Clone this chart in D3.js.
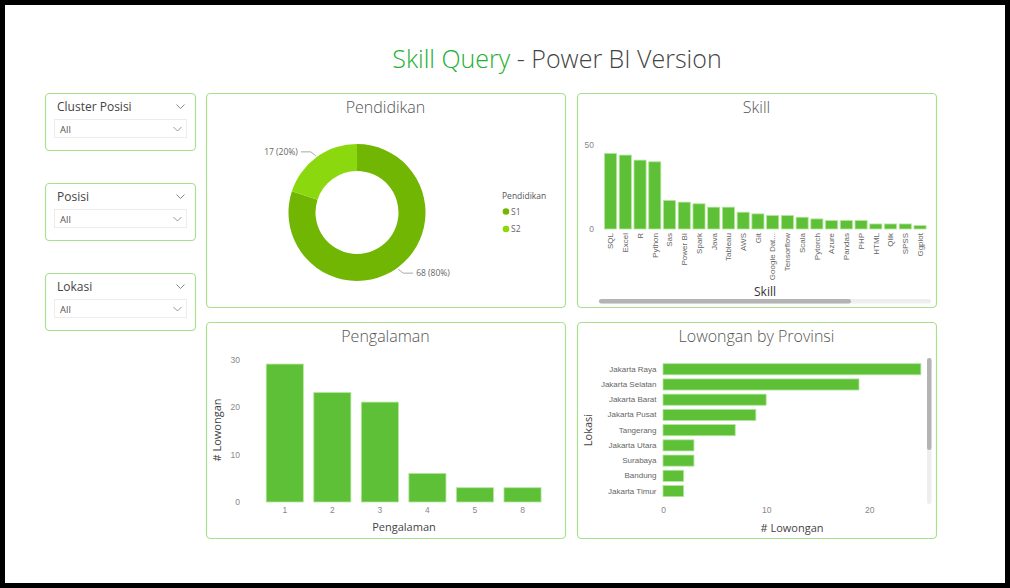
<!DOCTYPE html>
<html><head><meta charset="utf-8">
<script src="https://cdn.jsdelivr.net/npm/d3@7"></script>
<style>
html,body{margin:0;padding:0;background:#000;}
svg{display:block;font-family:"Open Sans","Noto Sans",sans-serif;}
</style></head>
<body>
<svg id="c" width="1010" height="588"></svg>
<script>
// ---- data ----
const slicerNames = ["Cluster Posisi", "Posisi", "Lokasi"];
const slicerValues = ["All", "All", "All"];
const pendidikan = ["S1", "S2"];
const pendidikanCounts = [68, 17];
const skills = ["SQL","Excel","R","Python","Sas","Power BI","Spark","Java","Tableau","AWS","Git","Google Dat...","Tensorflow","Scala","Pytorch","Azure","Pandas","PHP","HTML","Qlik","SPSS","Ggplot"];
const skillCounts = [45,44,41,40,17,16,15,13,13,10,9,8,8,7,6,5,5,5,3,3,3,2];
const skillTicks = [0, 50];
const pengalaman = ["1","2","3","4","5","8"];
const pengalamanCounts = [29,23,21,6,3,3];
const pengalamanTicks = [0,10,20,30];
const provinsi = ["Jakarta Raya","Jakarta Selatan","Jakarta Barat","Jakarta Pusat","Tangerang","Jakarta Utara","Surabaya","Bandung","Jakarta Timur"];
const provinsiCounts = [25,19,10,9,7,3,3,2,2];
const provinsiTicks = [0,10,20];

// ---- style ----
const BAR = "#5EC036", BAR_STROKE = "#b3e59c";
const PANEL_STROKE = "#a9e08e";
const DONUT = ["#72B604", "#8CD80F"];
const AX = "#888", TITLE = "#555";

const svg = d3.select("#c");
svg.append("rect").attr("x",5).attr("y",5).attr("width",1000).attr("height",578).attr("fill","#fff");

// title
const t = svg.append("text").attr("x",557).attr("y",68).attr("text-anchor","middle")
  .attr("font-size",25).attr("font-weight",300).attr("fill","#444");
t.append("tspan").attr("fill","#22b02e").text("Skill Query");
t.append("tspan").text(" - Power BI Version");

function panel(x,y,w,h,title){
  svg.append("rect").attr("x",x+0.5).attr("y",y+0.5).attr("width",w).attr("height",h)
    .attr("rx",4).attr("fill","#fff").attr("stroke",PANEL_STROKE).attr("stroke-width",1.2);
  if(title) svg.append("text").attr("x",x+w/2).attr("y",y+20).attr("text-anchor","middle")
    .attr("font-size",16).attr("font-weight",300).attr("fill",TITLE).text(title);
}
function chevron(g,x,y,s,c){
  g.append("path").attr("d",`M${x-s},${y-s/2}L${x},${y+s/2}L${x+s},${y-s/2}`)
    .attr("fill","none").attr("stroke",c).attr("stroke-width",1);
}

// slicers
const slicerY = [93,183,273];
slicerNames.forEach((n,i)=>{
  const y = slicerY[i];
  svg.append("rect").attr("x",45.5).attr("y",y+0.5).attr("width",150).attr("height",57)
    .attr("rx",4).attr("fill","#fff").attr("stroke",PANEL_STROKE).attr("stroke-width",1.2);
  svg.append("text").attr("x",57).attr("y",y+18).attr("font-size",12).attr("fill","#444").text(n);
  chevron(svg,180.5,y+13.5,4,"#888");
  svg.append("rect").attr("x",54.5).attr("y",y+26.5).attr("width",132).attr("height",18)
    .attr("fill","#fff").attr("stroke","#ececec");
  svg.append("text").attr("x",60).attr("y",y+39.5).attr("font-size",9.5).attr("fill","#555").text(slicerValues[i]);
  chevron(svg,177.5,y+36,4,"#999");
});

// ---- Pendidikan donut ----
panel(206,93,359,214,"Pendidikan");
const cx=357, cy=212.5;
const pie = d3.pie().sort(null).value(d=>d)(pendidikanCounts);
const arc = d3.arc().innerRadius(41.5).outerRadius(68.5);
const dg = svg.append("g").attr("transform",`translate(${cx},${cy})`);
dg.selectAll("path").data(pie).join("path").attr("d",arc).attr("fill",(d,i)=>DONUT[i]);
const total = d3.sum(pendidikanCounts);
const lab = (i)=>`${pendidikanCounts[i]} (${Math.round(pendidikanCounts[i]/total*100)}%)`;
// leader lines at slice midpoints
const outer = d3.arc().innerRadius(70).outerRadius(70);
pie.forEach((s,i)=>{
  const m = (s.startAngle+s.endAngle)/2;
  const c = outer.centroid({startAngle:m,endAngle:m});
  const p = [cx+c[0], cy+c[1]];
  const dir = Math.sin(m) >= 0 ? 1 : -1;
  const dy = Math.cos(m) >= 0 ? -4 : 4;
  const q = [p[0]+dir*5, p[1]+dy];
  const r = [q[0]+dir*10, q[1]];
  svg.append("path").attr("d",`M${p[0]},${p[1]}L${q[0]},${q[1]}L${r[0]},${r[1]}`)
    .attr("fill","none").attr("stroke","#aaa");
  svg.append("text").attr("x",r[0]+dir*3).attr("y",r[1]+3).attr("text-anchor",dir>0?"start":"end")
    .attr("font-size",8.5).attr("fill","#666").text(lab(i));
});
// legend
svg.append("text").attr("x",502).attr("y",199).attr("font-size",8.5).attr("fill","#555").text("Pendidikan");
pendidikan.forEach((p,i)=>{
  const y = 211.5 + i*17.5;
  svg.append("circle").attr("cx",506).attr("cy",y).attr("r",3.3).attr("fill",DONUT[i]);
  svg.append("text").attr("x",511).attr("y",y+3).attr("font-size",8.5).attr("fill","#666").text(p);
});

// ---- Skill ----
panel(577,93,359,214,"Skill");
const xs = d3.scaleBand().domain(skills).range([603.2,927.4]).paddingInner(0.18).paddingOuter(0.09);
const ys = d3.scaleLinear().domain([0,50]).range([229,145]);
svg.append("g").selectAll("rect").data(skills).join("rect")
  .attr("x",d=>xs(d)).attr("width",xs.bandwidth())
  .attr("y",(d,i)=>ys(skillCounts[i])).attr("height",(d,i)=>ys(0)-ys(skillCounts[i]))
  .attr("fill",BAR).attr("stroke",BAR_STROKE).attr("stroke-width",0.8);
svg.append("g").attr("class","num").attr("transform","translate(594,0)")
  .call(d3.axisLeft(ys).tickValues(skillTicks).tickSize(0).tickPadding(0));
const xAxS = svg.append("g").attr("class","cat").attr("transform","translate(0,233)")
  .call(d3.axisBottom(xs).tickSize(0).tickPadding(0));
xAxS.selectAll("text").attr("text-anchor","end").attr("transform","rotate(-90)")
  .attr("x",0).attr("y",0).attr("dy","0.35em");
svg.append("text").attr("x",765).attr("y",295.5).attr("text-anchor","middle").attr("font-size",12)
  .attr("fill","#333").text("Skill");
// scrollbar
svg.append("rect").attr("x",599).attr("y",299).attr("width",332).attr("height",4.5).attr("rx",2.2).attr("fill","#eeeeee");
svg.append("rect").attr("x",599).attr("y",299).attr("width",252).attr("height",4.5).attr("rx",2.2).attr("fill","#b4b4b4");

// ---- Pengalaman ----
panel(206,322,359,216,"Pengalaman");
const xp = d3.scaleBand().domain(pengalaman).range([261,546.3]).paddingInner(0.22).paddingOuter(0.11);
const yp = d3.scaleLinear().domain([0,30]).range([502,359.3]);
svg.append("g").selectAll("rect").data(pengalaman).join("rect")
  .attr("x",d=>xp(d)).attr("width",xp.bandwidth())
  .attr("y",(d,i)=>yp(pengalamanCounts[i])).attr("height",(d,i)=>yp(0)-yp(pengalamanCounts[i]))
  .attr("fill",BAR).attr("stroke",BAR_STROKE).attr("stroke-width",0.8);
svg.append("g").attr("class","num").attr("transform","translate(240,0)")
  .call(d3.axisLeft(yp).tickValues(pengalamanTicks).tickSize(0).tickPadding(0));
svg.append("g").attr("class","num").attr("transform","translate(0,507)")
  .call(d3.axisBottom(xp).tickSize(0).tickPadding(0));
svg.append("text").attr("transform","translate(221,430) rotate(-90)").attr("text-anchor","middle")
  .attr("font-size",11).attr("fill","#444").text("# Lowongan");
svg.append("text").attr("x",404).attr("y",531).attr("text-anchor","middle")
  .attr("font-size",11).attr("fill","#444").text("Pengalaman");

// ---- Lowongan by Provinsi ----
panel(577,322,359,216,"Lowongan by Provinsi");
const yl = d3.scaleBand().domain(provinsi).range([361.7,498.6]).paddingInner(0.27).paddingOuter(0.13);
const xl = d3.scaleLinear().domain([0,20]).range([663,869.3]);
svg.append("g").selectAll("rect").data(provinsi).join("rect")
  .attr("y",d=>yl(d)).attr("height",yl.bandwidth())
  .attr("x",xl(0)).attr("width",(d,i)=>xl(provinsiCounts[i])-xl(0))
  .attr("fill",BAR).attr("stroke",BAR_STROKE).attr("stroke-width",0.8);
svg.append("g").attr("class","cat").attr("transform","translate(656.5,0)")
  .call(d3.axisLeft(yl).tickSize(0).tickPadding(0));
svg.append("g").attr("class","num").attr("transform","translate(0,507)")
  .call(d3.axisBottom(xl).tickValues(provinsiTicks).tickSize(0).tickPadding(0));
svg.append("text").attr("transform","translate(592,430) rotate(-90)").attr("text-anchor","middle")
  .attr("font-size",11).attr("fill","#444").text("Lokasi");
svg.append("text").attr("x",792).attr("y",532).attr("text-anchor","middle")
  .attr("font-size",11).attr("fill","#444").text("# Lowongan");
svg.append("rect").attr("x",927).attr("y",358).attr("width",4.5).attr("height",146).attr("rx",2.2).attr("fill","#eeeeee");
svg.append("rect").attr("x",927).attr("y",358).attr("width",4.5).attr("height",92).attr("rx",2.2).attr("fill","#b4b4b4");

// axis styling
svg.selectAll(".domain").remove();
svg.selectAll(".tick text").attr("font-family",null);
svg.selectAll(".num .tick text").attr("fill",AX).attr("font-size",8.5);
svg.selectAll(".cat .tick text").attr("fill","#666").attr("font-size",8);
</script>
</body></html>
